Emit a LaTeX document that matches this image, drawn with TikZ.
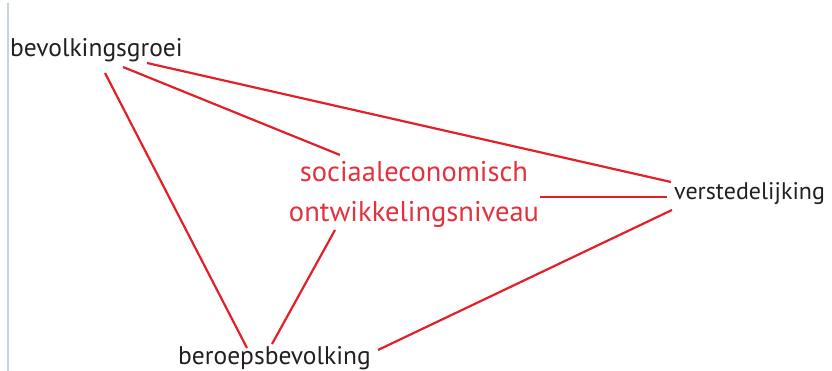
\documentclass[tikz,border=0pt]{standalone}
\usepackage{fontspec}
\setmainfont{PT Sans}
\usetikzlibrary{calc}
\definecolor{linkred}{RGB}{226,32,42}
\definecolor{labred}{RGB}{226,50,62}
\definecolor{labgray}{RGB}{35,31,32}
\definecolor{edgegray}{RGB}{200,210,218}
\tikzset{
  lab/.style={inner sep=0pt, anchor=base west, text=labgray, font=\fontsize{25.5}{30}\selectfont},
  redlab/.style={inner sep=0pt, anchor=base, text=labred, align=center, font=\fontsize{28.5}{40}\selectfont},
  link/.style={draw=linkred, line width=2.2pt}
}
\begin{document}
\begin{tikzpicture}[x=1pt,y=-1pt]
\useasboundingbox (0,0) rectangle (832,371);
\draw[edgegray, line width=2pt] (8,3) -- (8,371);
\node[lab] (bg) at (10,57) {bevolkingsgroei};
\node[lab] (bb) at (178,364) {beroepsbevolking};
\node[lab, font=\fontsize{24}{28}\selectfont] (vs) at (674,200) {verstedelijking};
\node[redlab] (se) at (414,222) {sociaaleconomisch\\ontwikkelingsniveau};
\draw[link] ($(bg.base west)+(95,16)$) -- ($(bb.base west)+(69,-16)$);
\draw[link] ($(bg.base west)+(113,10)$) -- ($(se.base)+(-74,-67)$);
\draw[link] ($(bg.base west)+(137,6)$) -- ($(vs.base west)+(-3,-18)$);
\draw[link] ($(se.base)+(126,-25)$) -- ($(vs.base west)+(-7,-3)$);
\draw[link] ($(se.base)+(-79,8)$) -- ($(bb.base west)+(94,-20)$);
\draw[link] ($(vs.base west)+(-2,10)$) -- ($(bb.base west)+(200,-14)$);
\end{tikzpicture}
\end{document}
